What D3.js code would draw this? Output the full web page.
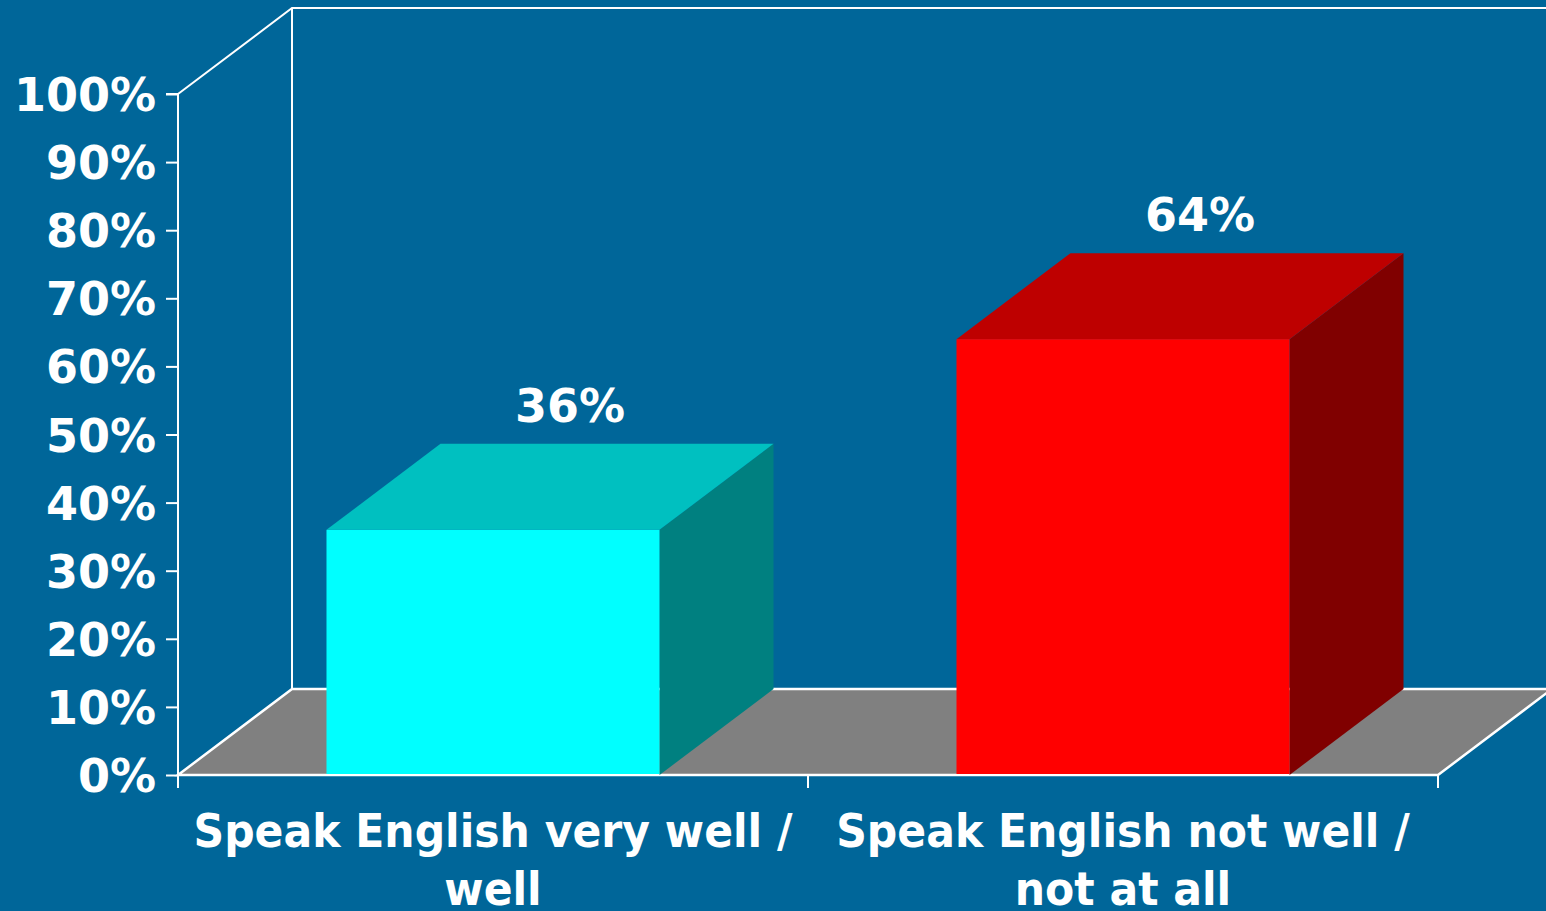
<!DOCTYPE html>
<html><head><meta charset="utf-8">
<script src="https://cdn.jsdelivr.net/npm/d3@7"></script>
<style>
html,body{margin:0;padding:0;background:#006699;overflow:hidden}
text{font-family:"DejaVu Sans",Verdana,sans-serif;font-weight:bold;fill:#fff}
</style></head>
<body>
<svg id="c" width="1546" height="911"></svg>
<script>
const categories = [["Speak English very well /", "well"], ["Speak English not well /", "not at all"]];
const values = [0.36, 0.64];
const valueLabels = ["36%", "64%"];
const tickValues = [0,0.1,0.2,0.3,0.4,0.5,0.6,0.7,0.8,0.9,1.0];
const frontColors = ["#00FFFF", "#FF0000"];
const topColors = ["#00C0C0", "#BE0000"];
const sideColors = ["#008080", "#800000"];

const W = 1546, H = 911;
const x0 = 178, x1 = 1438, yBase = 775, yTop = 94;
const dx = 114, dy = -86;
const svg = d3.select("#c");
svg.append("rect").attr("width", W).attr("height", H).attr("fill", "#006699");

const y = d3.scaleLinear().domain([0, 1]).range([yBase, yTop]);
const x = d3.scaleBand().domain(d3.range(categories.length)).range([x0, x1]).paddingInner(0.4714).paddingOuter(0.2357);

const line = d3.line();
// back wall lines
svg.append("path").attr("d", line([[x0, yTop], [x0 + dx, yTop + dy], [W + 10, yTop + dy]]))
  .attr("fill", "none").attr("stroke", "#fff").attr("stroke-width", 2);
svg.append("line").attr("x1", x0 + dx).attr("x2", x0 + dx).attr("y1", yTop + dy).attr("y2", yBase + dy)
  .attr("stroke", "#fff").attr("stroke-width", 2);
// floor
svg.append("path").attr("d", line([[x0, yBase], [x0 + dx, yBase + dy], [x1 + dx, yBase + dy], [x1, yBase]]) + "Z")
  .attr("fill", "#808080").attr("stroke", "#fff").attr("stroke-width", 2.5).attr("stroke-linejoin", "miter");

// bars
const g = svg.append("g");
values.forEach((v, i) => {
  const l = x(i), r = x(i) + x.bandwidth(), t = y(v), b = y(0);
  g.append("path").attr("d", line([[r, t], [r + dx, t + dy], [r + dx, b + dy], [r, b]]) + "Z").attr("fill", sideColors[i]);
  g.append("path").attr("d", line([[l, t], [l + dx, t + dy], [r + dx, t + dy], [r, t]]) + "Z").attr("fill", topColors[i]);
  g.append("rect").attr("x", l).attr("y", t).attr("width", r - l).attr("height", b - t - 1).attr("fill", frontColors[i]);
  svg.append("text").attr("x", (l + r) / 2 + 77).attr("y", t + dy - 22).attr("text-anchor", "middle")
    .attr("font-size", 46).text(valueLabels[i]);
});

// y axis
const ya = svg.append("g").attr("transform", `translate(${x0},0)`)
  .call(d3.axisLeft(y).tickValues(tickValues).tickSize(12).tickPadding(10).tickFormat(d3.format(".0%")));
ya.select(".domain").attr("stroke", "#fff").attr("stroke-width", 2).attr("d", `M-12,${yTop}H0V${yBase + 13}`);
ya.selectAll(".tick line").attr("stroke", "#fff").attr("stroke-width", 2);
ya.selectAll(".tick text").attr("fill", "#fff").attr("font-size", 46).attr("font-family", "DejaVu Sans").attr("font-weight", "bold").attr("dy", "0.36em");

// x axis ticks
const edges = [x0].concat(x.domain().map(i => x0 + x.step() * (i + 1)));
svg.selectAll(".xt").data(edges).enter().append("line")
  .attr("x1", d => d).attr("x2", d => d).attr("y1", yBase).attr("y2", yBase + 13)
  .attr("stroke", "#fff").attr("stroke-width", 2);

// category labels
categories.forEach((lines, i) => {
  const cx = x(i) + x.bandwidth() / 2;
  const t = svg.append("text").attr("text-anchor", "middle").attr("font-size", 46);
  lines.forEach((s, k) => {
    t.append("tspan").attr("x", cx).attr("y", 847 + k * 58).text(s);
  });
  t.selectAll("tspan").each(function () {
    const w = this.getComputedTextLength();
    const target = w * 0.925;
    d3.select(this).attr("textLength", target).attr("lengthAdjust", "spacingAndGlyphs");
  });
});
</script>
</body></html>
